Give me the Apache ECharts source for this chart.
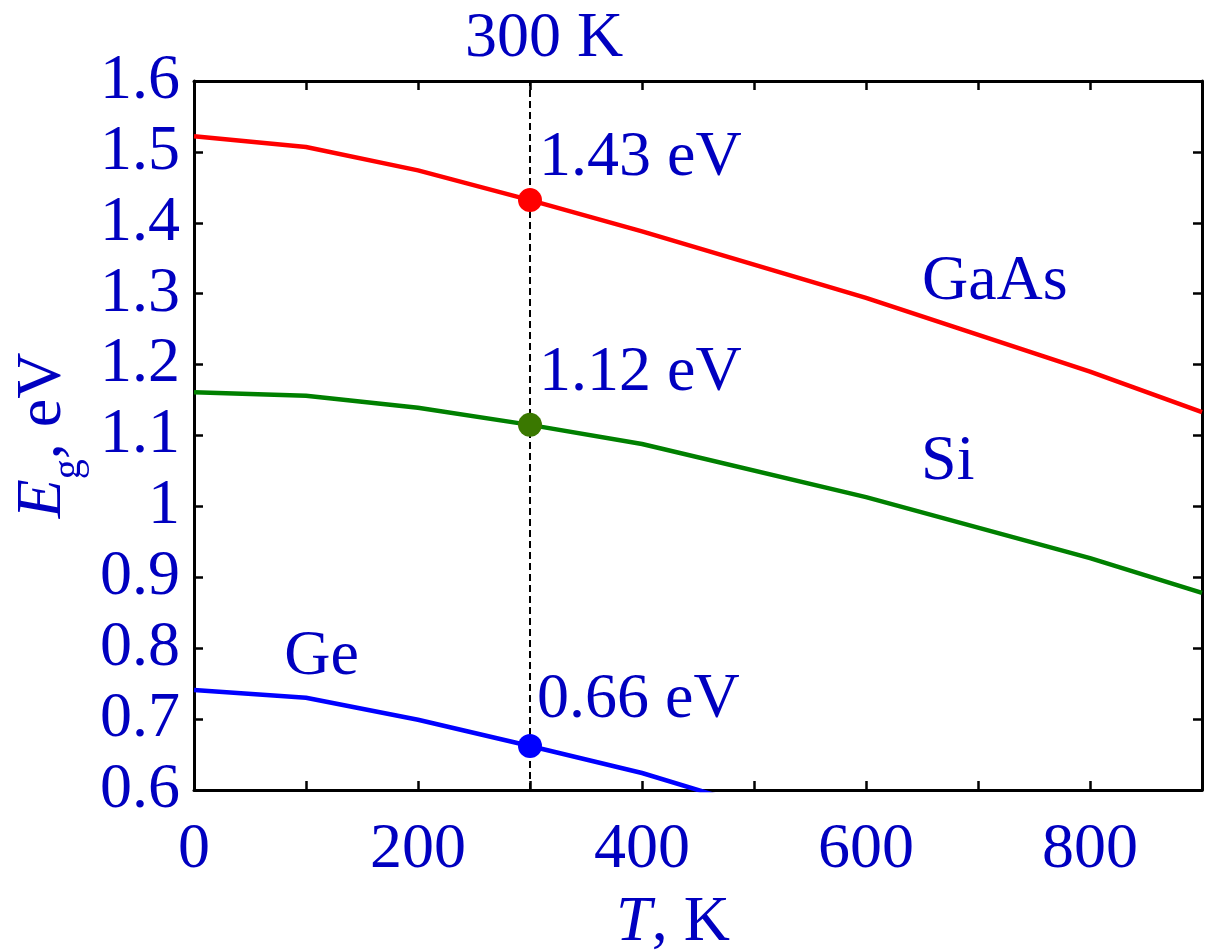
<!DOCTYPE html>
<html><head><meta charset="utf-8">
<script src="https://cdn.jsdelivr.net/npm/echarts@6/dist/echarts.min.js"></script>
<style>html,body{margin:0;padding:0;background:#fff}#c{width:1209px;height:952px}</style>
</head><body><div id="c"></div>
<script>
const temps = [0, 100, 200, 300, 400, 600, 800, 900];
const gaAs = [1.522, 1.507, 1.474, 1.432, 1.388, 1.294, 1.190, 1.133];
const si = [1.161, 1.156, 1.139, 1.115, 1.088, 1.013, 0.927, 0.878];
const geT = [0, 100, 200, 300, 400, 500];
const ge = [0.741, 0.730, 0.699, 0.662, 0.624, 0.576];
const markT = 300;
const markVals = [1.432, 1.115, 0.662];
const markLabels = ['1.43 eV', '1.12 eV', '0.66 eV'];
const xTicks = ['0', '', '200', '', '400', '', '600', '', '800', ''];

const TXT = '#0000c0';
const FONT = 'Liberation Serif';
const chart = echarts.init(document.getElementById('c'));
function pts(xs, ys){ return xs.map((x,i)=>[x, ys[i]]); }
function nameMark(text, coord){
  return { symbol: 'rect', symbolSize: 2, silent: true,
    itemStyle: { color: 'rgba(0,0,0,0)' },
    data: [{ coord: coord, value: 0 }],
    label: { show: true, position: 'inside', formatter: text, color: TXT, fontFamily: FONT, fontSize: 64 } };
}
const lineBase = { type: 'line', showSymbol: false, symbol: 'none', clip: true, z: 3 };
chart.setOption({
  animation: false,
  backgroundColor: '#fff',
  grid: { left: 194, right: 7, top: 81, bottom: 162, outerBoundsMode: 'none', containLabel: false },
  xAxis: [{
    type: 'value', min: 0, max: 900, interval: 100, position: 'bottom',
    name: '{i|T}{n|, K}', nameLocation: 'middle', nameGap: 101,
    nameTextStyle: { padding: [0, 50, 0, 0], rich: {
      i: { fontFamily: FONT, fontStyle: 'italic', fontSize: 64, color: TXT },
      n: { fontFamily: FONT, fontSize: 64, color: TXT } } },
    axisLine: { show: true, onZero: false, lineStyle: { color: '#000', width: 3 } },
    axisTick: { show: true, inside: true, length: 9, lineStyle: { color: '#000', width: 2.5 } },
    axisLabel: { margin: 28, color: TXT, fontFamily: FONT, fontSize: 64,
      formatter: function(v){ return xTicks[Math.round(v/100)] || ''; } },
    splitLine: { show: false }
  }, {
    type: 'value', min: 0, max: 900, interval: 100, position: 'top',
    axisLine: { show: true, onZero: false, lineStyle: { color: '#000', width: 3 } },
    axisTick: { show: true, inside: true, length: 9, lineStyle: { color: '#000', width: 2.5 } },
    axisLabel: { show: false }, splitLine: { show: false }
  }],
  yAxis: [{
    type: 'value', min: 0.6, max: 1.6, interval: 0.1, position: 'left',
    name: '{i|E}{s|g}{n|, eV}', nameLocation: 'middle', nameGap: 101, nameRotate: 90,
    nameTextStyle: { rich: {
      i: { fontFamily: FONT, fontStyle: 'italic', fontSize: 64, color: TXT, lineHeight: 80, verticalAlign: 'top' },
      s: { fontFamily: FONT, fontSize: 40, color: TXT, lineHeight: 40, verticalAlign: 'top', padding: [38, 0, 0, 0] },
      n: { fontFamily: FONT, fontSize: 64, color: TXT, lineHeight: 80, verticalAlign: 'top' } } },
    axisLine: { show: true, onZero: false, lineStyle: { color: '#000', width: 3 } },
    axisTick: { show: true, inside: true, length: 9, lineStyle: { color: '#000', width: 2.5 } },
    axisLabel: { margin: 14, color: TXT, fontFamily: FONT, fontSize: 64,
      formatter: function(v){ const r = Math.round(v*10)/10; return r === 1 ? '1' : r.toFixed(1); } },
    splitLine: { show: false }
  }, {
    type: 'value', min: 0.6, max: 1.6, interval: 0.1, position: 'right',
    axisLine: { show: true, onZero: false, lineStyle: { color: '#000', width: 3 } },
    axisTick: { show: true, inside: true, length: 9, lineStyle: { color: '#000', width: 2.5 } },
    axisLabel: { show: false }, splitLine: { show: false }
  }],
  series: [
    Object.assign({}, lineBase, { name: 'GaAs', data: pts(temps, gaAs),
      lineStyle: { color: '#ff0000', width: 4.5 }, itemStyle: { color: '#ff0000' },
      markPoint: nameMark('GaAs', [715, 1.316]) }),
    Object.assign({}, lineBase, { name: 'Si', data: pts(temps, si),
      lineStyle: { color: '#008000', width: 4.5 }, itemStyle: { color: '#008000' },
      markPoint: nameMark('Si', [673, 1.063]) }),
    Object.assign({}, lineBase, { name: 'Ge', data: pts(geT, ge),
      lineStyle: { color: '#0000ff', width: 4.5 }, itemStyle: { color: '#0000ff' },
      markPoint: nameMark('Ge', [114, 0.788]) }),
    { type: 'line', data: [], z: 2,
      markLine: { silent: true, symbol: 'none',
        lineStyle: { color: '#000', type: [7, 4], width: 2 },
        label: { show: true, position: 'end', distance: 10, formatter: markT + ' K',
          padding: [0, 0, 0, 28], color: TXT, fontFamily: FONT, fontSize: 64 },
        data: [[{ coord: [markT, 0.6] }, { coord: [markT, 1.6] }]] } },
    { type: 'scatter', z: 5, symbolSize: 24,
      itemStyle: { opacity: 1 },
      data: [
        { value: [markT, markVals[0]], itemStyle: { color: '#ff0000', opacity: 1 }, label: { offset: [-8, -42] } },
        { value: [markT, markVals[1]], itemStyle: { color: '#3a7800', opacity: 1 }, label: { offset: [-8, -52] } },
        { value: [markT, markVals[2]], itemStyle: { color: '#0000ff', opacity: 1 }, label: { offset: [-10, -46] } }
      ],
      label: { show: true, position: 'right', distance: 5, color: TXT, fontFamily: FONT, fontSize: 64,
        formatter: function(p){ return markLabels[p.dataIndex]; } } }
  ]
});
</script></body></html>
